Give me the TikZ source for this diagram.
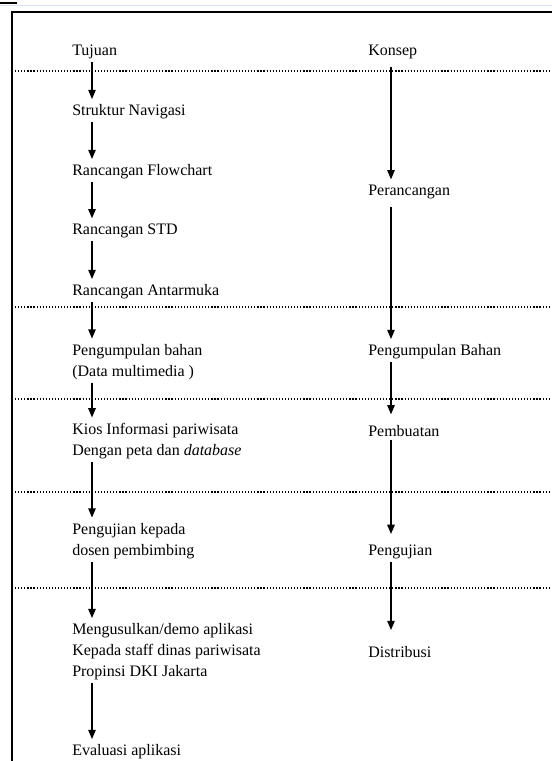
\documentclass[tikz,border=0pt]{standalone}
\usepackage{fontspec}
\setmainfont{Liberation Serif}
\usetikzlibrary{arrows.meta}
\definecolor{paleline}{RGB}{214,226,240}

\begin{document}
\begin{tikzpicture}
[every node/.style={inner sep=0pt, anchor=west, align=left, font=\fontsize{12pt}{15.75pt}\selectfont},
 arr/.style={line width=1.2pt, -{Triangle[width=5.5pt,length=7pt]}, shorten <=2pt, shorten >=4pt},
 sep/.style={line width=0.9pt, dash pattern=on 0.9pt off 1.4pt},
 frame/.style={line width=1.5pt}]
\useasboundingbox (0pt, 0pt) rectangle (414pt, -570.75pt);
% frame
\draw [line width=0.6pt, color=paleline] (0pt, -3.75pt) -- (414pt, -3.75pt);
\draw [frame] (0pt, -2.25pt) -- (12.75pt, -2.25pt);
\draw [frame] (414pt, -9.0pt) -- (9.0pt, -9.0pt) -- (9.0pt, -570.75pt);
\draw [sep] (9.0pt, -53.25pt) -- (414pt, -53.25pt);
\draw [sep] (9.0pt, -230.25pt) -- (414pt, -230.25pt);
\draw [sep] (9.0pt, -299.25pt) -- (414pt, -299.25pt);
\draw [sep] (9.0pt, -369.0pt) -- (414pt, -369.0pt);
\draw [sep] (9.0pt, -441.0pt) -- (414pt, -441.0pt);
% left column
\node (tujuan) at (54.0pt, -39.0pt) {Tujuan};
\node (navigasi) at (54.0pt, -84.0pt) {Struktur Navigasi};
\node (flowchart) at (54.0pt, -129.0pt) {Rancangan Flowchart};
\node (std) at (54.0pt, -173.25pt) {Rancangan STD};
\node (antarmuka) at (54.0pt, -219.0pt) {Rancangan Antarmuka};
\node (bahan) at (54.0pt, -271.5pt) {Pengumpulan bahan\\(Data multimedia )};
\node (kios) at (54.0pt, -330.75pt) {Kios Informasi pariwisata\\Dengan peta dan \textit{database}};
\node (uji) at (54.0pt, -405.75pt) {Pengujian kepada\\dosen pembimbing};
\node (usul) at (54.0pt, -489.0pt) {Mengusulkan/demo aplikasi\\Kepada staff dinas pariwisata\\Propinsi DKI Jakarta};
\node (evaluasi) at (54.0pt, -564.0pt) {Evaluasi aplikasi};
% right column
\node (konsep) at (276.0pt, -39.0pt) {Konsep};
\node (rancang) at (276.0pt, -144.0pt) {Perancangan};
\node (kumpul) at (276.0pt, -264.0pt) {Pengumpulan Bahan};
\node (buat) at (276.0pt, -323.25pt) {Pembuatan};
\node (pengujian) at (276.0pt, -414.0pt) {Pengujian};
\node (distribusi) at (276.0pt, -489.0pt) {Distribusi};
\draw [arr] ([xshift=15pt]tujuan.south west) to ([xshift=15pt]navigasi.north west);
\draw [arr] ([xshift=15pt]navigasi.south west) to ([xshift=15pt]flowchart.north west);
\draw [arr] ([xshift=15pt]flowchart.south west) to ([xshift=15pt]std.north west);
\draw [arr] ([xshift=15pt]std.south west) to ([xshift=15pt]antarmuka.north west);
\draw [arr] ([xshift=15pt]antarmuka.south west) to ([xshift=15pt]bahan.north west);
\draw [arr] ([xshift=15pt]bahan.south west) to ([xshift=15pt]kios.north west);
\draw [arr] ([xshift=15pt]kios.south west) to ([xshift=15pt]uji.north west);
\draw [arr] ([xshift=15pt]uji.south west) to ([xshift=15pt]usul.north west);
\draw [arr] ([xshift=15pt]usul.south west) to ([xshift=15pt]evaluasi.north west);
\draw [arr, shorten <=6pt] ([xshift=17.25pt]konsep.south west) to ([xshift=17.25pt]rancang.north west);
\draw [arr, shorten <=6pt] ([xshift=17.25pt]rancang.south west) to ([xshift=17.25pt]kumpul.north west);
\draw [arr, shorten >=8pt] ([xshift=17.25pt]kumpul.south west) to ([xshift=17.25pt]buat.north west);
\draw [arr, shorten >=8pt] ([xshift=17.25pt]buat.south west) to ([xshift=17.25pt]pengujian.north west);
\draw [arr, shorten >=12pt] ([xshift=17.25pt]pengujian.south west) to ([xshift=17.25pt]distribusi.north west);
\end{tikzpicture}
\end{document}
